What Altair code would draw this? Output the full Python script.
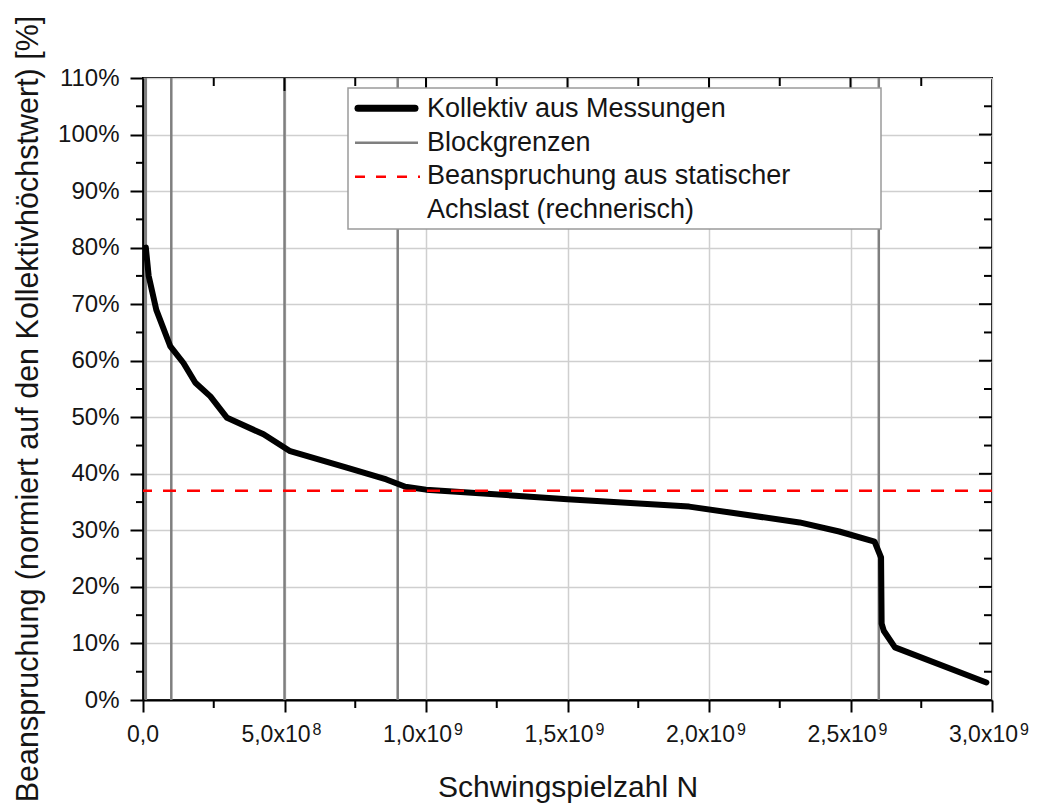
import altair as alt
import pandas as pd

# Load spectrum from measurements: cumulative cycle count vs. normalised stress
cycles_e9 = [0.01, 0.02, 0.047, 0.096, 0.143, 0.185, 0.238, 0.297, 0.426, 0.52,
             0.72, 0.86, 0.927, 1.0, 1.5, 1.93, 2.32, 2.46, 2.585, 2.608,
             2.61, 2.618, 2.657, 2.98]
load_pct = [80.0, 75.0, 69.0, 62.6, 59.6, 56.1, 53.7, 49.9, 47.0, 44.0,
            41.1, 39.0, 37.7, 37.2, 35.5, 34.2, 31.4, 29.8, 28.0, 25.2,
            13.5, 12.2, 9.3, 3.1]

# Block boundaries of the spectrum (cycle counts)
block_bounds_e9 = [0.01, 0.1, 0.5, 0.9, 2.6]

# Stress from static axle load (calculated), in %
static_level = 37.0

# Axis ticks and labels (mantissa and power-of-ten exponent)
x_major_e9 = [0.0, 0.5, 1.0, 1.5, 2.0, 2.5, 3.0]
x_minor_e9 = [0.25, 0.75, 1.25, 1.75, 2.25, 2.75]
x_tick_base = ["0,0", "5,0x10", "1,0x10", "1,5x10", "2,0x10", "2,5x10", "3,0x10"]
x_tick_exp = ["", "8", "9", "9", "9", "9", "9"]
y_major = [0, 10, 20, 30, 40, 50, 60, 70, 80, 90, 100, 110]
y_minor = [5, 15, 25, 35, 45, 55, 65, 75, 85, 95, 105]

legend_labels = ["Kollektiv aus Messungen", "Blockgrenzen",
                 "Beanspruchung aus statischer", "Achslast (rechnerisch)"]

FONT = "Liberation Sans"
TXT = "#151515"
W, H = 849, 622

curve = pd.DataFrame({"N": [c * 1e9 for c in cycles_e9], "S": load_pct,
                      "i": list(range(len(cycles_e9)))})
blocks = pd.DataFrame({"N": [b * 1e9 for b in block_bounds_e9]})
static = pd.DataFrame({"S": [static_level]})
xmaj = pd.DataFrame({"N": [v * 1e9 for v in x_major_e9[1:-1]]})
xmin = pd.DataFrame({"N": [v * 1e9 for v in x_minor_e9]})
ymaj = pd.DataFrame({"S": y_major[1:-1]})
ymin = pd.DataFrame({"S": y_minor})
xlab = pd.DataFrame({"N": [v * 1e9 for v in x_major_e9],
                     "base": x_tick_base, "exp": x_tick_exp})

xs = alt.Scale(domain=[0, 3e9], nice=False, zero=False)
ys = alt.Scale(domain=[0, 110], nice=False, zero=False)

x_axis = alt.Axis(
    values=[v * 1e9 for v in x_major_e9],
    labels=False,
    tickSize=12, tickWidth=2, tickColor="black",
    domainColor="black", domainWidth=2,
    grid=True, gridColor="#cfcfcf", gridWidth=1.5,
    title="Schwingspielzahl N", titleFont=FONT, titleFontSize=30,
    titleFontWeight="normal", titleColor=TXT,
    titleBaseline="alphabetic", titleY=96.7,
)
y_axis = alt.Axis(
    values=y_major,
    labelExpr="datum.value + '%'",
    tickSize=13, tickWidth=2, tickColor="black",
    domainColor="black", domainWidth=2,
    grid=True, gridColor="#cfcfcf", gridWidth=1.5,
    labelFont=FONT, labelFontSize=24, labelColor=TXT, labelPadding=11,
    labelFlush=False, labelOverlap=False,
    title="Beanspruchung (normiert auf den Kollektivhöchstwert) [%]",
    titleFont=FONT, titleFontSize=30.5, titleFontWeight="normal", titleColor=TXT,
    titleAngle=270, titleAlign="center", titleBaseline="alphabetic",
    titleX=-106, titleY=330.5,
)

X = alt.X("N:Q", scale=xs, axis=x_axis)
Y = alt.Y("S:Q", scale=ys, axis=y_axis)

block_rules = alt.Chart(blocks).mark_rule(color="#7f7f7f", strokeWidth=2.5).encode(x=X)

spectrum = alt.Chart(curve).mark_line(
    color="black", strokeWidth=6, strokeJoin="round", strokeCap="round"
).encode(x=X, y=Y, order="i:Q")

static_rule = alt.Chart(static).mark_rule(
    color="#ff0000", strokeWidth=2.5, strokeDash=[13, 11]
).encode(y=Y)

# Minor ticks and mirrored ticks on the top and right frame
def xticks(df, y0, y1):
    return alt.Chart(df).mark_rule(color="black", strokeWidth=2).encode(
        x=X, y=alt.value(y0), y2=alt.value(y1))

def yticks(df, x0, x1):
    return alt.Chart(df).mark_rule(color="black", strokeWidth=2).encode(
        y=Y, x=alt.value(x0), x2=alt.value(x1))

ticks = [
    xticks(xmin, H, H + 8),
    xticks(xmin, 0, 8),
    xticks(xmaj, 0, 13),
    yticks(ymin, -7, 0),
    yticks(ymin, W - 8, W),
    yticks(ymaj, W - 13, W),
]

# x tick labels with raised exponents
lab_zero = alt.Chart(xlab).transform_filter("datum.exp == ''").mark_text(
    font=FONT, fontSize=23, color=TXT, align="center", baseline="alphabetic"
).encode(x=X, y=alt.value(H + 41.7), text="base:N")
lab_base = alt.Chart(xlab).transform_filter("datum.exp != ''").mark_text(
    font=FONT, fontSize=23, color=TXT, align="right", baseline="alphabetic", dx=26
).encode(x=X, y=alt.value(H + 41.7), text="base:N")
lab_exp = alt.Chart(xlab).transform_filter("datum.exp != ''").mark_text(
    font=FONT, fontSize=16, color=TXT, align="left", baseline="alphabetic", dx=28
).encode(x=X, y=alt.value(H + 35), text="exp:N")

# Legend box
LX0, LX1, LY0, LY1 = 205, 738, 10, 151
legend_box = alt.Chart(static).mark_rect(
    fill="white", stroke="#9a9a9a", strokeWidth=1.5
).encode(x=alt.value(LX0), x2=alt.value(LX1), y=alt.value(LY0), y2=alt.value(LY1))

SX0, SX1 = 212, 275
leg_curve = alt.Chart(static).mark_rule(color="black", strokeWidth=7, strokeCap="round").encode(
    x=alt.value(SX0 + 3), x2=alt.value(SX1 - 3), y=alt.value(30.3))
leg_block = alt.Chart(static).mark_rule(color="#7f7f7f", strokeWidth=2.5).encode(
    x=alt.value(SX0), x2=alt.value(SX1), y=alt.value(64.7))
leg_static = alt.Chart(static).mark_rule(color="#ff0000", strokeWidth=2.5, strokeDash=[10, 11]).encode(
    x=alt.value(SX0), x2=alt.value(SX1 + 2), y=alt.value(98.7))

baselines = [38.7, 73.0, 106.0, 140.3]
leg_texts = [
    alt.Chart(static).mark_text(
        text=lab, font=FONT, fontSize=27, color=TXT, align="left", baseline="alphabetic"
    ).encode(x=alt.value(284), y=alt.value(b))
    for lab, b in zip(legend_labels, baselines)
]

chart = alt.layer(
    block_rules, spectrum, static_rule, *ticks, lab_zero, lab_base, lab_exp,
    legend_box, leg_curve, leg_block, leg_static, *leg_texts
).properties(
    width=W, height=H,
    autosize=alt.AutoSizeParams(type="none"),
    padding={"left": 143, "top": 78, "right": 46, "bottom": 108},
    background="white",
).configure_view(stroke="black", strokeWidth=2)

chart.save("out.html", embed_options={"renderer": "svg", "actions": False})
